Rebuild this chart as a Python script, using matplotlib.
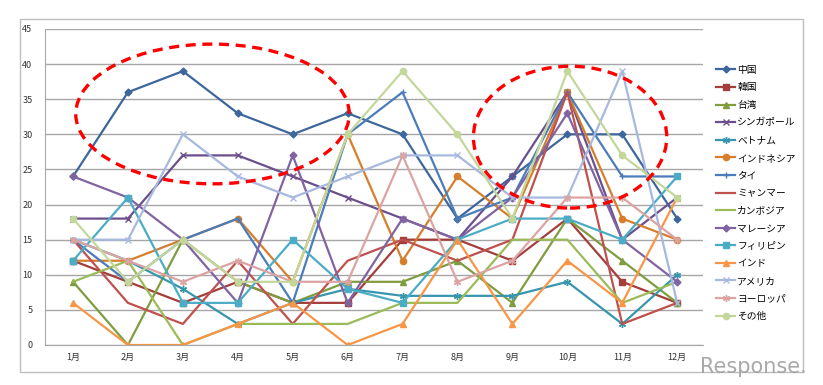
import matplotlib
matplotlib.use('Agg')
import matplotlib.pyplot as plt
from matplotlib.patches import Ellipse, Rectangle

plt.rcParams['font.family'] = ['Noto Sans CJK JP', 'DejaVu Sans']

# Data
months = ['1月', '2月', '3月', '4月', '5月', '6月', '7月', '8月', '9月', '10月', '11月', '12月']
names = ['中国', '韓国', '台湾', 'シンガポール', 'ベトナム', 'インドネシア', 'タイ', 'ミャンマー',
         'カンボジア', 'マレーシア', 'フィリピン', 'インド', 'アメリカ', 'ヨーロッパ', 'その他']

china = [24, 36, 39, 33, 30, 33, 30, 18, 24, 30, 30, 18]
korea = [12, 9, 6, 9, 6, 6, 15, 15, 12, 18, 9, 6]
taiwan = [9, 0, 15, 9, 6, 9, 9, 12, 6, 18, 12, 6]
singapore = [18, 18, 27, 27, 24, 21, 18, 15, 24, 36, 15, 21]
vietnam = [15, 12, 8, 3, 6, 8, 7, 7, 7, 9, 3, 10]
indonesia = [12, 12, 15, 18, 9, 30, 12, 24, 18, 36, 18, 15]
thai = [15, 9, 15, 18, 6, 30, 36, 18, 21, 36, 24, 24]
myanmar = [15, 6, 3, 12, 3, 12, 15, 12, 15, 36, 3, 6]
cambodia = [9, 12, 0, 3, 3, 3, 6, 6, 15, 15, 6, 9]
malaysia = [24, 21, 15, 6, 27, 6, 18, 15, 21, 33, 15, 9]
philippines = [12, 21, 6, 6, 15, 8, 6, 15, 18, 18, 15, 24]
india = [6, 0, 0, 3, 6, 0, 3, 15, 3, 12, 6, 21]
usa = [15, 15, 30, 24, 21, 24, 27, 27, 21, 21, 39, 6]
europe = [15, 12, 9, 12, 9, 9, 27, 9, 12, 21, 21, 15]
other = [18, 9, 15, 9, 9, 30, 39, 30, 18, 39, 27, 21]

series = [china, korea, taiwan, singapore, vietnam, indonesia, thai, myanmar,
          cambodia, malaysia, philippines, india, usa, europe, other]

# styles
colors = ['#3D679C', '#A33E3B', '#7F9C3F', '#6A4F8C', '#3795AD', '#D67E2C', '#4A7DBA', '#C0504D',
          '#9BBB59', '#8064A2', '#4BACC6', '#F79646', '#A7B9DE', '#DBA4A3', '#C4D79B']
markers = ['D', 's', '^', 'x', (6, 2, 0), 'o', '+', None,
           None, 'D', 's', '^', 'x', (6, 2, 0), 'o']
msizes = [3.5, 4.5, 4.5, 4.5, 5, 4.5, 5, 0, 0, 3.5, 5, 4.5, 4.5, 5, 4.5]

fig = plt.figure(figsize=(8.23, 3.85), dpi=100)
ax = fig.add_axes([45 / 823, 40 / 385, 658 / 823, 316 / 385])

x = list(range(1, 13))
for vals, name, c, m, ms in zip(series, names, colors, markers, msizes):
    ax.plot(x, vals, color=c, linewidth=1.6, marker=m, markersize=ms,
            markeredgewidth=1.0, label=name)

ax.set_xlim(0.49, 12.47)
ax.set_ylim(0, 45)
ax.set_yticks(range(0, 46, 5))
ax.set_xticks(x)
ax.set_xticklabels(months)
ax.tick_params(axis='both', length=0, labelsize=6.5, colors='#333333')
ax.tick_params(axis='x', pad=6)
ax.tick_params(axis='y', pad=9)
ax.yaxis.grid(True, color='#a6a6a6', linewidth=1)
ax.set_axisbelow(True)
for s in ['top', 'right']:
    ax.spines[s].set_visible(False)
ax.spines['left'].set_color('#a6a6a6')
ax.spines['bottom'].set_color('#a6a6a6')

# red dashed ellipses (annotations)
for cx, cy, w, h in [(3.54, 32.9, 4.98, 19.9), (10.05, 29.6, 3.52, 20.2)]:
    ax.add_patch(Ellipse((cx, cy), w, h, fill=False, edgecolor='#ff0000',
                         linewidth=2.4, linestyle=(0, (3, 2)), zorder=5))

# legend
fig.legend(loc='upper left', bbox_to_anchor=(712 / 823, 1 - 61 / 385), frameon=False,
           fontsize=7, handlelength=2.0, handletextpad=0.2, labelspacing=0.78,
           borderaxespad=0)

# chart border
fig.patches.append(Rectangle((20 / 823, 13 / 385), 783 / 823, 353 / 385, transform=fig.transFigure,
                             fill=False, edgecolor='#bfbfbf', linewidth=1))

# watermark
fig.text(0.851, 0.03, 'Response.', fontsize=15, color='#a0a0a0', family='DejaVu Sans',
         alpha=0.9)

fig.savefig('out.png', dpi=100)
